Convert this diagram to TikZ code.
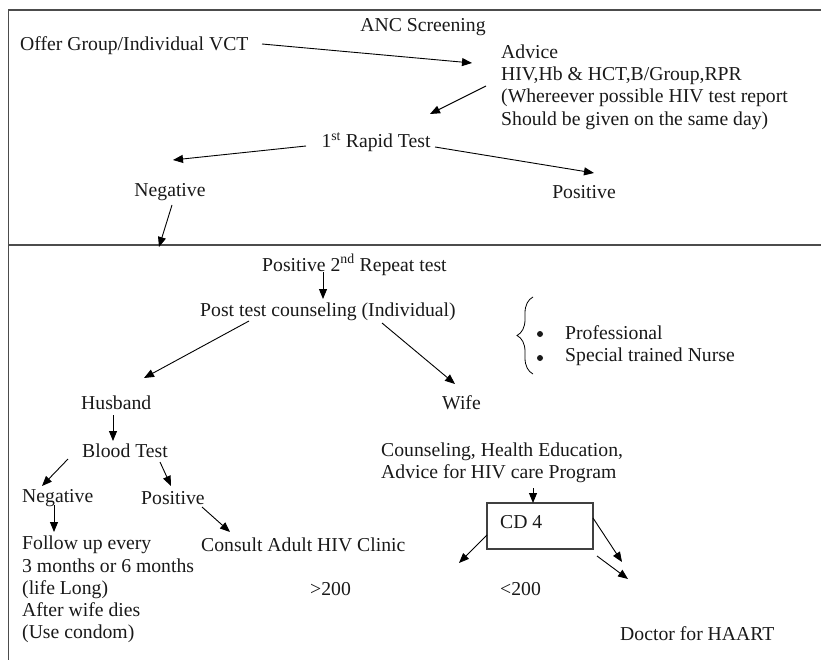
\documentclass[tikz,border=0pt]{standalone}
\usepackage{fontspec}
\setmainfont{Liberation Serif}
\usetikzlibrary{arrows.meta,decorations.pathreplacing}
\begin{document}
\begin{tikzpicture}[x=1pt,y=-1pt,
  txt/.style={inner sep=0pt,anchor=west,align=left,font=\fontsize{19.7}{22.2}\selectfont,text=black!90},
  arr/.style={-{Triangle[length=10pt,width=8pt]},line width=0.9pt},
  frame/.style={line width=1.4pt,draw=black!70},
  dot/.style={circle,fill=black!90,inner sep=0pt,minimum size=6pt}]
\useasboundingbox (0,0) rectangle (821,660);
% frame
\coordinate (tl) at (8.5,10);
\coordinate (tr) at (821,10);
\coordinate (bl) at (8.5,660);
\coordinate (dl) at (8.5,245);
\coordinate (dr) at (821,245);
\draw[frame] (tr) -- (tl) -- (bl);
\draw[frame] (dl) -- (dr);
% upper part
\node[txt,anchor=center] (anc) at (423,27) {ANC Screening};
\node[txt] (offer) at (20,46) {Offer Group/Individual VCT};
\node[txt] (advice) at (501,87) {Advice\\HIV,Hb \& HCT,B/Group,RPR\\(Whereever possible HIV test report\\Should be given on the same day)};
\node[txt,anchor=center] (rapid) at (376,142) {1\textsuperscript{st} Rapid Test};
\node[txt,anchor=center] (neg1) at (170,192) {Negative};
\node[txt,anchor=center] (pos1) at (584,192) {Positive};
% lower part
\node[txt] (pos2) at (262,265) {Positive 2\textsuperscript{nd} Repeat test};
\node[txt] (post) at (200,312) {Post test counseling (Individual)};
\node[txt] (prof) at (565,333) {Professional};
\node[txt] (nurse) at (565,357) {Special trained Nurse};
\node[dot] (b1) at (540,334) {};
\node[dot] (b2) at (540,358) {};
\coordinate (brb) at (533,374);
\coordinate (brt) at (533,297);
\draw[decorate,decoration={brace,amplitude=16pt},line width=0.8pt] (brb) -- (brt);
\node[txt] (husband) at (81,403) {Husband};
\node[txt] (wife) at (442,403) {Wife};
\node[txt] (blood) at (82,451) {Blood Test};
\node[txt] (couns) at (381,463) {Counseling, Health Education,\\Advice for HIV care Program};
\node[txt] (neg2) at (22,498) {Negative};
\node[txt] (pos2b) at (141,498) {Positive};
\node[txt] (follow) at (22,589.5) {Follow up every\\3 months or 6 months\\(life Long)\\After wife dies\\(Use condom)};
\node[txt] (consult) at (201,545) {Consult Adult HIV Clinic};
\node[txt] (gt) at (310,589) {>200};
\node[txt] (lt) at (500,589) {<200};
\node[draw,line width=1.3pt,draw=black!75,minimum width=106pt,minimum height=46pt,inner sep=0pt] (cd4box) at (540,526) {};
\node[txt] (cd4) at (500,522) {CD 4};
\node[txt] (doctor) at (620,634) {Doctor for HAART};
% arrow end points
\coordinate (a1s) at (262,44);  \coordinate (a1e) at (472,63);
\coordinate (a2s) at (486,86);  \coordinate (a2e) at (430,114);
\coordinate (a3s) at (306,146); \coordinate (a3e) at (173,160);
\coordinate (a4s) at (435,147); \coordinate (a4e) at (594,173);
\coordinate (a5s) at (172,205); \coordinate (a5e) at (159,247);
\coordinate (a6s) at (323,272); \coordinate (a6e) at (323,299);
\coordinate (a7s) at (249,321); \coordinate (a7e) at (144,378);
\coordinate (a8s) at (382,323); \coordinate (a8e) at (455,384);
\coordinate (a9s) at (113,415); \coordinate (a9e) at (113,441);
\coordinate (a10s) at (68,459); \coordinate (a10e) at (42,486);
\coordinate (a11s) at (160,462); \coordinate (a11e) at (171,486);
\coordinate (a12s) at (54,505); \coordinate (a12e) at (54,532);
\coordinate (a13s) at (202,507); \coordinate (a13e) at (230,532);
\coordinate (a14s) at (533,488); \coordinate (a14e) at (533,503);
\coordinate (a15s) at (487,535); \coordinate (a15e) at (459,563);
\coordinate (a16s) at (593,518); \coordinate (a16e) at (622,562);
\coordinate (a17s) at (597,556); \coordinate (a17e) at (628,579);
\foreach \i in {1,...,17} {\draw[arr] (a\i s) -- (a\i e);}
\end{tikzpicture}
\end{document}
